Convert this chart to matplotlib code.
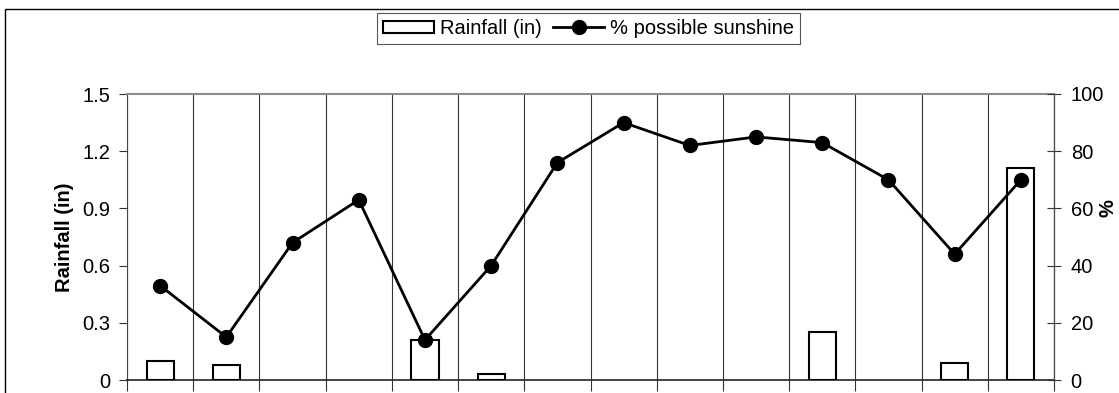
import matplotlib
matplotlib.use("Agg")
import matplotlib.pyplot as plt
from matplotlib.patches import Rectangle
from matplotlib.lines import Line2D
import numpy as np

plt.rcParams['font.family'] = ['Liberation Sans', 'DejaVu Sans']

# Daily observations
days = list(range(1, 15))
rainfall_in = [0.10, 0.08, 0.0, 0.0, 0.21, 0.03, 0.0, 0.0, 0.0, 0.0, 0.25, 0.0, 0.09, 1.11]
sunshine_pct = [33, 15, 48, 63, 14, 40, 76, 90, 82, 85, 83, 70, 44, 70]

rain_ticks = [0, 0.3, 0.6, 0.9, 1.2, 1.5]
rain_tick_labels = ['0', '0.3', '0.6', '0.9', '1.2', '1.5']
pct_ticks = [0, 20, 40, 60, 80, 100]

FS = 14.5
W, H = 1119, 393
fig = plt.figure(figsize=(W / 100, H / 100), dpi=100)

# outer chart frame (top and left edges visible)
fig.add_artist(Rectangle((5 / W, -0.1), 1.2, 1.1 - 9 / H, transform=fig.transFigure,
                         fill=False, edgecolor='black', linewidth=1.0))

ax = fig.add_axes([127 / W, 13 / H, (1054 - 127) / W, (380 - 94) / H])
x = np.arange(len(days))
rain = np.array(rainfall_in)
wet = rain > 0

ax.bar(x[wet], rain[wet], width=0.41, facecolor='white', edgecolor='black',
       linewidth=1.5, zorder=3)
ax.set_xlim(-0.5, len(days) - 0.5)
ax.set_ylim(0, 1.5)
ax.set_yticks(rain_ticks)
ax.set_yticklabels(rain_tick_labels)
bounds = np.arange(len(days) + 1) - 0.5
ax.set_xticks(bounds)
ax.set_xticklabels([])
ax.grid(axis='x', color='#333333', linewidth=0.8)
ax.tick_params(axis='x', direction='out', length=8, width=0.8, color='#333333')
ax.tick_params(axis='y', direction='out', length=6, width=0.8, color='#333333',
               labelsize=FS, pad=6)
ax.set_ylabel('Rainfall (in)', fontsize=FS, fontweight='bold', labelpad=6)
ax.spines['top'].set_color('#8c8c8c')
ax.spines['top'].set_linewidth(1.5)
ax.spines['left'].set_color('#444444')
ax.spines['bottom'].set_color('#222222')
ax.spines['bottom'].set_linewidth(1.2)

ax2 = ax.twinx()
ax2.plot(x, sunshine_pct, color='black', linewidth=2, marker='o', markersize=10, zorder=4)
ax2.set_ylim(0, 100)
ax2.set_yticks(pct_ticks)
ax2.tick_params(axis='y', direction='inout', length=10, width=0.8, color='#333333',
                labelsize=FS, pad=7)
ax2.spines['right'].set_color('#444444')
ax2.spines['top'].set_visible(False)
ax2.spines['left'].set_visible(False)
ax2.spines['bottom'].set_visible(False)
fig.text(1108 / W, 1 - 208 / H, '%', rotation=90, fontsize=FS, fontweight='bold',
         ha='center', va='center')

handles = [Rectangle((0, 0), 1, 1, facecolor='white', edgecolor='black', linewidth=1.5),
           Line2D([0], [0], color='black', linewidth=2, marker='o', markersize=10)]
leg = fig.legend(handles, ['Rainfall (in)', '% possible sunshine'], loc='center',
                 bbox_to_anchor=(588.5 / W, 1 - 28.5 / H), ncol=2, fontsize=FS,
                 frameon=True, fancybox=False, framealpha=1, edgecolor='#555555',
                 handlelength=2.5, handleheight=0.6, handletextpad=0.3, columnspacing=0.6,
                 borderpad=0.3)
leg.get_frame().set_linewidth(0.8)

fig.savefig('out.png', dpi=100)
